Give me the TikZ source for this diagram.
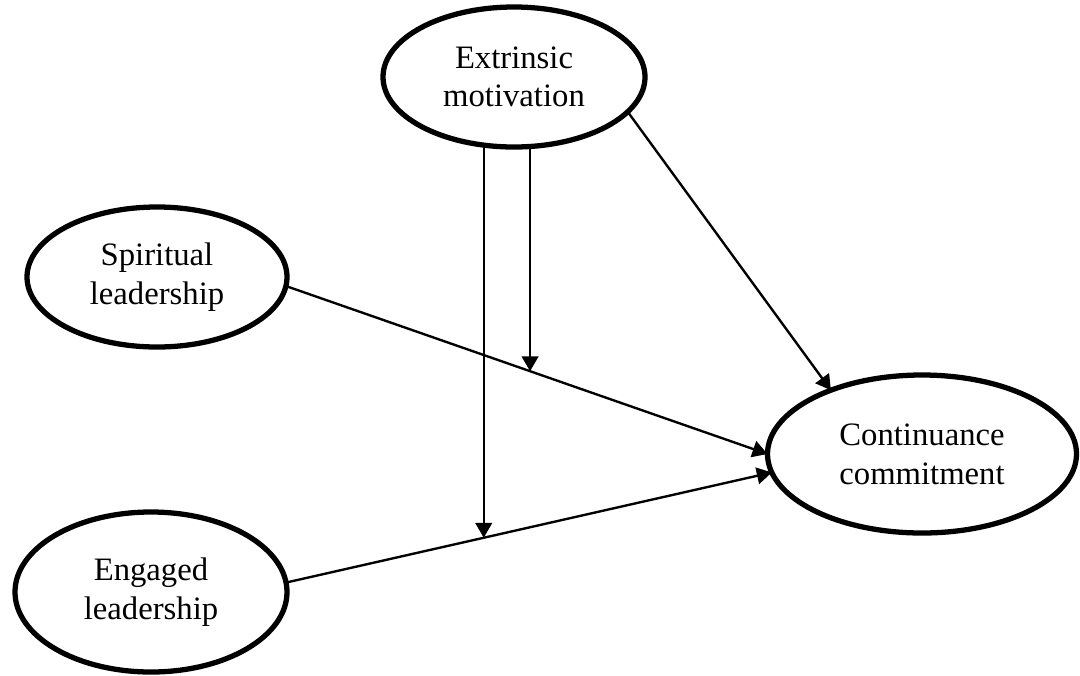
\documentclass[tikz,border=0pt]{standalone}
\usepackage{fontspec}
\setmainfont{Liberation Serif}
\usetikzlibrary{arrows.meta,shapes.geometric}
\tikzset{
  latent/.style={ellipse, draw, line width=3pt, inner sep=0pt, outer sep=0pt,
    align=center, font=\fontsize{18.6}{22}\selectfont},
  path/.style={line width=1.35pt, -{Triangle[length=8.5pt,width=9.5pt]}}
}
\begin{document}
\begin{tikzpicture}[path]
                \useasboundingbox (0,0) rectangle (21.6,-13.5);
                \node [latent, minimum width=5.24cm, minimum height=2.8cm] (extr) at (10.28,-1.54) {Extrinsic\\motivation};
                \node [latent, minimum width=5.2cm, minimum height=2.8cm] (spirit) at (3.14,-5.54) {Spiritual\\leadership};
                \node [latent, minimum width=5.44cm, minimum height=3.2cm] (engaged) at (3.02,-11.84) {Engaged\\leadership};
                \node [latent, minimum width=6.18cm, minimum height=3.16cm] (cont) at (18.44,-9.08) {Continuance\\commitment};
                \path (extr.-17) edge (cont.145);
                \path (spirit.-4) edge coordinate [pos=0.507] (mspirit) (cont.180);
                \path (engaged.4) edge coordinate [pos=0.407] (mengaged) (cont.-173);
                \path (extr.south -| mengaged) edge (mengaged);
                \path (extr.south -| mspirit) edge (mspirit);
            \end{tikzpicture}
\end{document}
